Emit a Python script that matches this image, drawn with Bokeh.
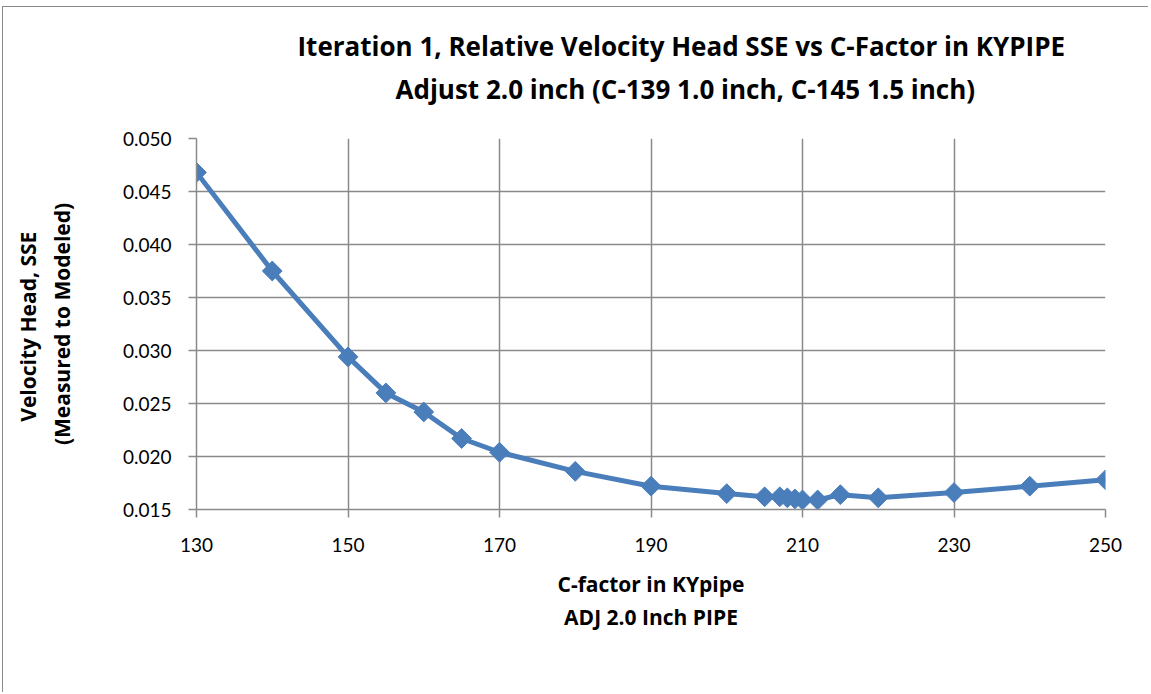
from bokeh.plotting import figure
from bokeh.models import Range1d, FixedTicker, NumeralTickFormatter, Title
from bokeh.embed import file_html
from bokeh.resources import INLINE
import numpy as np

# Data
c_factor = [130, 140, 150, 155, 160, 165, 170, 180, 190, 200, 205, 207, 208, 209, 210, 212, 215, 220, 230, 240, 250]
sse = [0.0468, 0.0375, 0.0294, 0.0260, 0.0242, 0.0217, 0.0204, 0.0186, 0.0172, 0.0165, 0.0162, 0.0162,
       0.0161, 0.0160, 0.0159, 0.0159, 0.0164, 0.0161, 0.0166, 0.0172, 0.0178]
x_ticks = [130, 150, 170, 190, 210, 230, 250]
y_ticks = [0.015, 0.020, 0.025, 0.030, 0.035, 0.040, 0.045, 0.050]

title_line1 = "Iteration 1, Relative Velocity Head SSE vs C-Factor in KYPIPE"
title_line2 = "Adjust 2.0 inch (C-139 1.0 inch, C-145 1.5 inch)"
x_label = "C-factor in KYpipe\nADJ 2.0 Inch PIPE"
y_label = "Velocity Head,  SSE\n(Measured to Modeled)"

FONT = "Open Sans"
TICK_FONT = "Lato"
GRID = "#8a8a8a"
BLUE = "#4a7ebb"

p = figure(width=1146, height=686, output_backend="svg", toolbar_location=None,
           x_range=Range1d(130, 250), y_range=Range1d(0.015, 0.050),
           min_border_left=193, min_border_right=44, min_border_top=131, min_border_bottom=184,
           title=None)
p.styles = {"border-left": "1px solid #8a8a8a", "border-top": "1px solid #8a8a8a",
            "margin-left": "2px", "margin-top": "6px"}
p.outline_line_color = None
p.background_fill_color = "white"
p.border_fill_color = "white"

title_style = dict(text_font=FONT, text_font_size="26px", text_font_style="bold", text_color="black")
spacer = Title(text=" ", align="left", standoff=0, text_font=FONT, text_font_size="22px")
t2 = Title(text=title_line2, align="left", offset=199, standoff=0, **title_style)
t1 = Title(text=title_line1, align="left", offset=101, standoff=9, **title_style)
p.add_layout(spacer, "above")
p.add_layout(t2, "above")
p.add_layout(t1, "above")

p.xaxis.ticker = FixedTicker(ticks=x_ticks)
p.yaxis.ticker = FixedTicker(ticks=y_ticks)
p.yaxis.formatter = NumeralTickFormatter(format="0.000")

for ax in (p.xaxis, p.yaxis):
    ax.axis_line_color = GRID
    ax.axis_line_width = 1.5
    ax.major_tick_line_color = GRID
    ax.major_tick_line_width = 1.5
    ax.major_tick_out = 8
    ax.major_tick_in = 0
    ax.minor_tick_line_color = None
    ax.major_label_text_font = TICK_FONT
    ax.major_label_text_font_size = "19px"
    ax.major_label_text_color = "black"
    ax.axis_label_text_font = FONT
    ax.axis_label_text_font_size = "21px"
    ax.axis_label_text_font_style = "bold"
    ax.axis_label_text_color = "black"

p.xaxis.axis_label = x_label
p.yaxis.axis_label = y_label
p.xaxis.major_label_standoff = 20
p.yaxis.major_label_standoff = 17
p.xaxis.axis_label_standoff = 15
p.yaxis.axis_label_standoff = 44

p.xgrid.ticker = FixedTicker(ticks=x_ticks)
p.ygrid.ticker = FixedTicker(ticks=y_ticks)
for g in (p.xgrid, p.ygrid):
    g.grid_line_color = GRID
    g.grid_line_width = 1.5

p.line(c_factor, sse, line_color=BLUE, line_width=5, line_join="round")
p.scatter(c_factor, sse, marker="square", angle=np.pi / 4, size=14,
          fill_color=BLUE, line_color=BLUE, line_width=1)

open("out.html", "w").write(file_html(p, INLINE))
